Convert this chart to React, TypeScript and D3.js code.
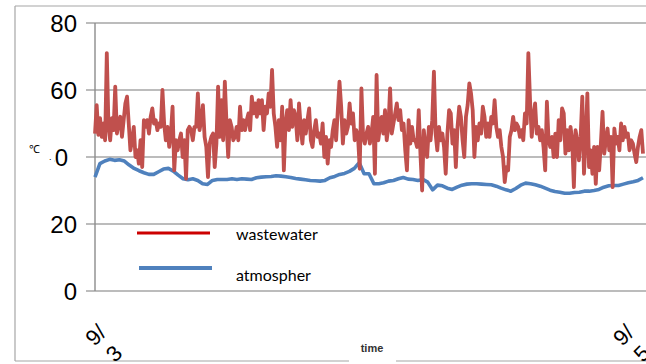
import React from 'react';
import * as d3 from 'd3';

// wastewater temperature (℃) left to right
const wastewater = [
  47, 55.5, 46.6, 51.6, 46, 50, 45, 71, 49, 45, 51.6, 48, 61, 47, 50, 52, 46, 51, 56, 58,
  50, 42, 45, 49, 40, 42, 38, 45, 37, 51, 49, 51, 47, 52, 54.5, 50, 51, 48, 50, 49,
  60, 50, 45, 49, 43, 47, 55, 36, 45, 42, 45, 47, 40, 45, 33.5, 48, 49, 48, 45, 49,
  49, 59, 48, 51, 55.5, 46, 43, 34, 44, 46, 47, 37, 44, 61, 46, 57, 45, 62.5, 50, 40,
  51, 49, 45, 46, 49, 45, 55, 48, 51, 48, 51, 53, 48, 58, 53, 56, 52, 57, 53, 57,
  48, 55, 53, 59, 55, 66, 53, 49, 43, 51, 45, 55, 36, 50, 54, 48, 57, 49, 54, 52,
  45, 56, 49, 44,
  51, 47, 51, 54.5, 45, 43, 48, 51, 46, 47, 44, 50, 40, 46, 38, 45, 43, 48, 51, 45,
  54, 62.5, 55, 44, 51, 47, 49, 56, 50, 53, 45, 48, 46, 36.5, 60.5, 46, 44, 47, 49, 44,
  47, 52, 35, 64.5, 45, 49, 52, 47, 54, 45, 49, 60.5, 47, 50, 53, 56, 51, 54, 48, 50,
  42, 36, 51, 44, 49, 45,
  45, 43, 54, 41, 30, 48, 43, 40, 49, 45, 51, 65.5, 47, 42, 49, 45, 47, 43, 35, 47,
  54, 53, 44, 48, 37, 49, 55, 52, 45, 40, 52, 55.5, 62, 59, 54, 40, 49, 45, 50, 47,
  55, 52, 46, 50, 46, 52, 50, 57, 49, 46, 48, 43, 40, 32.5, 37, 36, 46, 48, 52, 48,
  50, 49, 46, 48, 45, 53,
  50, 71, 57, 46, 52, 56, 47, 49, 45, 48, 43, 36, 56.5, 45, 43, 46, 40, 47, 40, 51,
  45, 54.5, 53, 41, 48, 42, 49, 45, 31, 48, 45, 39, 46, 58, 35, 45, 59, 37, 42, 35,
  43, 32, 43, 36, 44, 53.5, 41, 45, 48.5, 42, 46, 31, 48.5, 44, 46, 42, 50, 45, 49, 46,
  47, 42, 45, 44, 41, 38.5, 43, 46, 48, 41,
];

// atmosphere temperature (℃)
const atmosphere = [
  34, 38, 38.8, 39.3, 39, 39.2, 38.8, 37.6, 36.6, 35.9, 35.3, 34.8, 34.8, 35.6, 36.4, 36.6,
  35.8, 34.6, 33.5, 33.2, 33.5, 33, 32,
  31.8, 33, 33.3, 33.3, 33.3, 33.5, 33.3, 33.5, 33.4, 33.3, 33.8, 34, 34.1, 34.2, 34.4,
  34.3, 34.1, 33.9, 33.6, 33.4, 33.2, 33,
  32.9, 32.8, 33, 33.8, 34.2, 34.8, 35.1, 35.7, 36.6, 38.3, 35, 35, 32, 32, 32.3, 32.8,
  33, 33.5, 33.9, 33.4, 33.3, 33,
  33.3, 32.5, 30.2, 31.6, 31.4, 30.7, 30.3, 31, 31.6, 31.9, 32, 32, 31.9, 31.8, 31.7,
  31.3, 30.7, 30.2, 29.8, 30.6, 31.6, 32.2,
  32, 31.7, 31.3, 30.7, 30.1, 29.7, 29.5, 29.2, 29.2, 29.4, 29.5, 29.8, 29.8, 30, 30.3,
  31, 31.4, 31.5, 31.5, 31.9, 32.3, 32.6, 33, 33.8,
];

const yTicks = [0, 20, 40, 60, 80];
const xLabels = [['9/', '3'], ['9/', '5']];
const xLabelAt = [0, 313];
const seriesNames = ['wastewater', 'atmospher'];

const W = 646;
const H = 364;

export default function App() {
  const y = d3.scaleLinear().domain([0, 80]).range([291, 23]);
  const xRed = d3.scaleLinear().domain([0, wastewater.length - 1]).range([95, 643]);
  const xBlue = d3.scaleLinear().domain([0, atmosphere.length - 1]).range([95, 643]);

  const redLine = d3.line<number>().x((_, i) => xRed(i)).y(d => y(d));
  const blueLine = d3.line<number>().x((_, i) => xBlue(i)).y(d => y(d));

  const grid = '#a6a6a6';
  const sans = '"Liberation Sans", Arial, sans-serif';

  return (
    <svg
      width={W}
      height={H}
      style={{ position: 'absolute', left: 0, top: 0, background: '#fff' }}
    >
      {/* outer frame */}
      <line x1={15} x2={W} y1={6} y2={6} stroke={grid} strokeWidth={1.2} />
      <line x1={15} x2={15} y1={6} y2={361} stroke={grid} strokeWidth={1.2} />
      <line x1={15} x2={W} y1={361} y2={361} stroke={grid} strokeWidth={1.2} />

      {/* gridlines */}
      {yTicks.map(t => (
        <line key={t} x1={86} x2={W} y1={y(t)} y2={y(t)} stroke={grid} strokeWidth={1.4} />
      ))}
      <line x1={95} x2={95} y1={y(80)} y2={y(0)} stroke="#8c8c8c" strokeWidth={1.4} />

      {/* y tick labels (40 sits a little left, half hidden by the unit box) */}
      {yTicks.map(t => (
        <text
          key={t}
          x={t === 40 ? 68 : 77}
          y={y(t)}
          dy="0.36em"
          textAnchor="end"
          fontFamily={sans}
          fontSize={24}
          fill="#000"
        >
          {t}
        </text>
      ))}
      {/* unit box covering part of the 40 label */}
      <rect x={18} y={141} width={36} height={30} fill="#fff" />
      <text x={29} y={153} fontFamily={sans} fontSize={11} fill="#000">
        ℃
      </text>
      <text x={49} y={160} fontFamily={sans} fontSize={9} fill="#000">
        .
      </text>

      {/* series */}
      <path d={blueLine(atmosphere) || ''} fill="none" stroke="#4f81bd" strokeWidth={3.6} strokeLinejoin="round" />
      <path d={redLine(wastewater) || ''} fill="none" stroke="#c0504d" strokeWidth={3.8} strokeLinejoin="round" />

      {/* legend */}
      <line x1={137} x2={210} y1={233} y2={233} stroke="#cc0000" strokeWidth={3} />
      <text x={236} y={240} fontFamily="Lato, sans-serif" fontSize={16} fill="#000">
        {seriesNames[0]}
      </text>
      <line x1={139} x2={212} y1={268} y2={268} stroke="#4f81bd" strokeWidth={4} />
      <text x={236} y={281} fontFamily="Lato, sans-serif" fontSize={16} fill="#000">
        {seriesNames[1]}
      </text>

      {/* x labels, wrapped and rotated */}
      {xLabels.map((lines, i) => (
        <text
          key={i}
          transform={`translate(${xRed(xLabelAt[i]) - 0.5},347) rotate(-45)`}
          fontFamily={sans}
          fontSize={22}
          fill="#000"
        >
          <tspan x={0} y={0}>{lines[0]}</tspan>
          <tspan x={3} y={26}>{lines[1]}</tspan>
        </text>
      ))}

      {/* axis title */}
      <rect x={349} y={338} width={47} height={26} fill="#fff" />
      <text x={372} y={352} textAnchor="middle" fontFamily={sans} fontSize={11} fontWeight="bold" fill="#333">
        time
      </text>
    </svg>
  );
}
